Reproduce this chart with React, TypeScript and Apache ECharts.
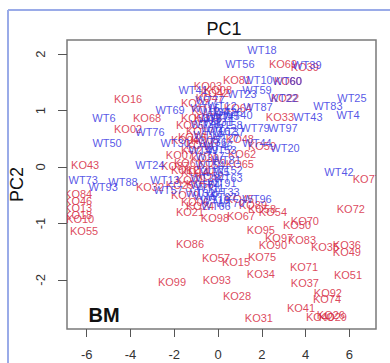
import React, { useEffect, useRef } from "react";
import * as echarts from "echarts";

const xTicks = [-6, -4, -2, 0, 2, 4, 6];
const yTicks = [-2, -1, 0, 1, 2];

const wtLabels = [
  "WT18", "WT56", "WT39", "WT10", "WT60", "WT59", "WT41", "WT23", "WT22", "WT25",
  "WT83", "WT87", "WT69", "WT40", "WT43", "WT4", "WT6", "WT76", "WT79", "WT97",
  "WT50", "WT44", "WT20", "WT24", "WT42", "WT73", "WT88", "WT93", "WT13", "WT96",
  "WT66", "WT77", "WT12", "WT34", "WT45", "WT9", "WT31", "WT58", "WT2", "WT62",
  "WT14", "WT27", "WT36", "WT30", "WT53", "WT17", "WT81", "WT65", "WT28", "WT91",
  "WT11", "WT33", "WT5", "WT19", "WT57", "WT32", "WT15", "WT26", "WT35", "WT37",
  "WT46", "WT49", "WT52", "WT54", "WT63", "WT64", "WT67", "WT70", "WT71",
];
const wtPC1 = [
  2.01, 1.0, 4.06, 1.83, 3.15, 1.78, -1.14, 1.1, 2.97, 6.12,
  5.02, 1.83, -2.19, 0.91, 4.11, 5.94, -5.21, -3.11, 1.69, 2.97,
  -5.07, 1.78, 3.06, -3.11, 5.53, -6.16, -4.34, -5.25, -2.42, 1.78,
  -0.09, -0.37, 0.18, -0.14, 0.32, -0.37, 0.0, 0.46, -0.27, 0.18,
  -0.46, 0.32, -0.27, -1.96, 0.18, -0.37, 0.37, -0.14, -0.59, 0.18,
  -0.37, 0.32, -0.59, -0.14, -2.28, -0.82, -0.59, 0.46, -0.59, 0.55,
  0.0, -0.68, 0.46, -0.37, 0.46, -0.59, 0.18, 0.55, 0.09,
];
const wtPC2 = [
  2.08, 1.82, 1.8, 1.55, 1.53, 1.36, 1.36, 1.29, 1.22, 1.22,
  1.08, 1.06, 1.01, 0.92, 0.88, 0.92, 0.86, 0.62, 0.69, 0.69,
  0.42, 0.42, 0.34, 0.04, -0.09, -0.23, -0.26, -0.35, -0.23, -0.56,
  -0.69, 1.18, 1.08, 0.97, 0.9, 0.85, 0.79, 0.74, 0.69, 0.64,
  0.56, 0.51, 0.44, 0.42, 0.3, 0.19, 0.12, -0.09, -0.19, -0.28,
  -0.37, -0.44, -0.51, -0.58, -0.41, -0.46, 1.04, 0.97, 0.76, 0.62,
  0.37, 0.3, -0.05, 0.04, -0.19, -0.32, -0.53, -0.64, 0.86,
];

const koLabels = [
  "KO81", "KO69", "KO60", "KO39", "KO22", "KO03", "KO08", "KO27", "KO16", "KO64",
  "KO47", "KO11", "KO33", "KO68", "KO02", "KO85", "KO17", "KO19", "KO44", "KO48",
  "KO59", "KO62", "KO65", "KO23", "KO30", "KO61", "KO43", "KO87", "KO14", "KO52",
  "KO01", "KO32", "KO56", "KO79", "KO06", "KO45", "KO89", "KO58", "KO54", "KO67",
  "KO21", "KO98", "KO24", "KO84", "KO46", "KO13", "KO18", "KO10", "KO55", "KO77",
  "KO72", "KO70", "KO50", "KO95", "KO97", "KO83", "KO90", "KO35", "KO36", "KO49",
  "KO86", "KO57", "KO15", "KO75", "KO71", "KO51", "KO93", "KO34", "KO37", "KO99",
  "KO28", "KO92", "KO74", "KO41", "KO31", "KO40", "KO26", "KO29", "KO04", "KO05",
  "KO07", "KO09", "KO12", "KO20", "KO25", "KO38", "KO42", "KO53",
];
const koPC1 = [
  0.87, 2.97, 3.2, 3.97, 3.06, -0.46, 0.0, -1.05, -4.11, 0.91,
  -0.37, -0.59, 2.83, -3.24, -4.11, -1.28, -0.82, -1.19, -0.82, 1.0,
  2.01, 1.1, 1.0, -1.05, -0.59, -1.37, -6.07, -1.96, -1.05, -0.37,
  -1.28, -3.11, -0.82, -1.51, -1.05, 1.0, 1.6, 2.01, 2.51, 1.05,
  -1.28, -0.14, -0.82, -6.39, -6.39, -6.39, -6.39, -6.3, -6.12, 6.8,
  6.07, 3.97, 3.61, 1.96, 2.79, 3.84, 2.51, 4.89, 5.89, 5.89,
  -1.28, -0.09, 0.82, 2.01, 3.93, 5.94, -0.05, 1.96, 3.97, -2.1,
  0.87, 5.02, 4.98, 3.79, 1.87, 4.66, 5.16, 5.25, -1.51, -0.59,
  -1.74, -0.27, -1.51, -0.82, -1.74, -0.46, -0.14, -1.05,
];
const koPC2 = [
  1.55, 1.82, 1.53, 1.78, 1.22, 1.43, 1.36, 1.13, 1.2, 1.04,
  1.23, 1.01, 0.88, 0.86, 0.67, 0.74, 0.64, 0.53, 0.39, 0.49,
  0.37, 0.23, 0.05, 0.3, 0.16, 0.07, 0.04, 0.02, -0.09, -0.16,
  -0.23, -0.35, -0.3, -0.49, -0.62, -0.56, -0.67, -0.74, -0.79, -0.86,
  -0.79, -0.9, -0.69, -0.48, -0.6, -0.72, -0.85, -0.93, -1.13, -0.21,
  -0.74, -0.95, -1.02, -1.11, -1.25, -1.29, -1.39, -1.41, -1.38, -1.5,
  -1.36, -1.62, -1.69, -1.59, -1.78, -1.92, -2.01, -1.89, -2.05, -2.03,
  -2.28, -2.24, -2.33, -2.49, -2.68, -2.65, -2.63, -2.66, 0.48, 0.48,
  0.21, 0.07, -0.05, -0.05, -0.32, 0.86, 1.31, 0.86,
];

const FONT = "Liberation Sans, Arial, Helvetica, sans-serif";

function labelSeries(names: string[], xs: number[], ys: number[], color: string) {
  return {
    type: "custom",
    clip: true,
    silent: true,
    data: xs.map((x, i) => [x, ys[i]]),
    renderItem: (params: any, api: any) => {
      const p = api.coord([api.value(0), api.value(1)]);
      return {
        type: "text",
        x: p[0],
        y: p[1],
        style: {
          text: names[params.dataIndex],
          fill: color,
          fontSize: 11,
          fontFamily: FONT,
          align: "center",
          verticalAlign: "middle",
        },
      };
    },
  };
}

export default function App() {
  const ref = useRef<HTMLDivElement>(null);
  useEffect(() => {
    if (!ref.current) return;
    const chart = echarts.init(ref.current, null, { renderer: "svg" });
    chart.setOption({
      animation: false,
      backgroundColor: "#ffffff",
      title: {
        text: "PC1",
        left: 219,
        top: 15,
        textAlign: "center",
        textStyle: { fontSize: 18, fontWeight: "normal", color: "#111", fontFamily: FONT },
      },
      grid: {
        left: 67,
        top: 40,
        right: 14,
        bottom: 34,
        show: true,
        borderColor: "#7a7a7a",
        borderWidth: 1.5,
        backgroundColor: "transparent",
      },
      xAxis: {
        type: "value",
        min: -6.9,
        max: 7.22,
        axisLine: { show: false, onZero: false },
        splitLine: { show: false },
        axisTick: {
          show: true,
          length: 8,
          customValues: xTicks,
          lineStyle: { color: "#555", width: 1 },
        },
        axisLabel: {
          customValues: xTicks,
          margin: 19,
          fontSize: 13,
          color: "#333",
          fontFamily: FONT,
        },
      },
      yAxis: {
        type: "value",
        min: -2.87,
        max: 2.25,
        name: "PC2",
        nameLocation: "middle",
        nameGap: 34,
        nameTextStyle: { fontSize: 18, color: "#111", fontFamily: FONT },
        axisLine: { show: false, onZero: false },
        splitLine: { show: false },
        axisTick: {
          show: true,
          length: 9,
          customValues: yTicks,
          lineStyle: { color: "#555", width: 1 },
        },
        axisLabel: {
          customValues: yTicks,
          rotate: 90,
          margin: 20,
          fontSize: 13,
          color: "#333",
          fontFamily: FONT,
          align: "center",
          verticalAlign: "bottom",
        },
      },
      graphic: [
        {
          type: "line",
          shape: { x1: 8, y1: 10, x2: 390, y2: 10 },
          style: { stroke: "#9aabe8", lineWidth: 2 },
        },
        {
          type: "line",
          shape: { x1: 8, y1: 10, x2: 8, y2: 363 },
          style: { stroke: "#9aabe8", lineWidth: 2 },
        },
        {
          type: "text",
          x: 104,
          y: 315,
          style: {
            text: "BM",
            fill: "#111",
            fontSize: 20,
            fontWeight: "bold",
            fontFamily: FONT,
            align: "center",
            verticalAlign: "middle",
          },
        },
      ],
      series: [
        labelSeries(koLabels, koPC1, koPC2, "rgba(214,40,62,0.85)"),
        labelSeries(wtLabels, wtPC1, wtPC2, "rgba(56,56,226,0.85)"),
      ],
    });
    return () => chart.dispose();
  }, []);
  return (
    <div
      ref={ref}
      style={{ position: "fixed", left: 0, top: 0, width: 390, height: 363, background: "#fff" }}
    />
  );
}
